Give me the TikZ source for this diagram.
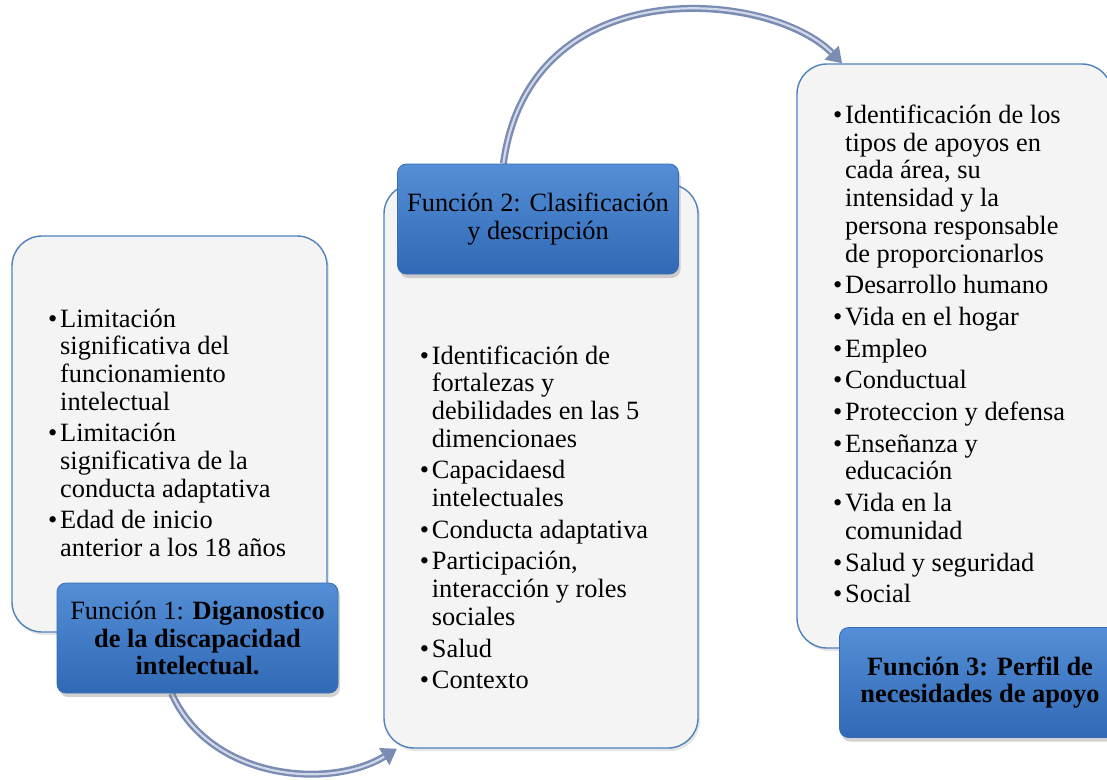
\documentclass[tikz,border=0pt]{standalone}
\usepackage{fontspec}
\setmainfont{Liberation Serif}
\usetikzlibrary{shadows,arrows.meta}
\pgfdeclarelayer{background}
\pgfsetlayers{background,main}
\definecolor{boxfill}{RGB}{244,244,244}
\definecolor{boxline}{RGB}{79,129,189}
\definecolor{lbltop}{RGB}{84,142,214}
\definecolor{lblbot}{RGB}{48,106,182}
\definecolor{lblline}{RGB}{58,108,178}
\definecolor{tubeout}{RGB}{122,140,178}
\definecolor{tubein}{RGB}{208,216,234}
\newcommand{\bul}{\makebox[12pt][l]{•}}
\begin{document}
\begin{tikzpicture}[x=1pt,y=-1pt,
  every node/.style={font=\fontsize{26.4}{27.7}\selectfont, inner sep=0pt},
  contentbox/.style={draw=boxline, line width=1.4pt, fill=boxfill, rounded corners=30pt,
    drop shadow={shadow xshift=2pt, shadow yshift=-3pt, opacity=0.2}},
  fnlabel/.style={draw=lblline, line width=0.8pt, top color=lbltop, bottom color=lblbot,
    rounded corners=9pt, minimum width=281pt, minimum height=110pt, align=center,
    drop shadow={shadow xshift=2pt, shadow yshift=-4pt, opacity=0.35}},
  tubeo/.style={draw=tubeout, line width=7pt},
  tubei/.style={draw=tubein, line width=2.2pt},
  itemtext/.style={anchor=base west}
]
\useasboundingbox (0,0) rectangle (1107,779);

% content boxes
\node[contentbox, minimum width=315pt, minimum height=396pt] (b1) at (169.5,434) {};
\node[contentbox, minimum width=314pt, minimum height=564pt] (b2) at (541,466) {};
\node[contentbox, minimum width=315pt, minimum height=584pt] (b3) at (954.5,356) {};

% texts
\node[itemtext] (t1) at (48,327) {\begin{tabular}[t]{@{}l@{}l@{}}
\bul&Limitación\\
&significativa del\\
&funcionamiento\\
&intelectual\\[4pt]
\bul&Limitación\\
&significativa de la\\
&conducta adaptativa\\[4pt]
\bul&Edad de inicio\\
&anterior a los 18 años
\end{tabular}};

\node[itemtext] (t2) at (419.7,364) {\begin{tabular}[t]{@{}l@{}l@{}}
\bul&Identificación de\\
&fortalezas y\\
&debilidades en las 5\\
&dimencionaes\\[4pt]
\bul&Capacidaesd\\
&intelectuales\\[4pt]
\bul&Conducta adaptativa\\[4pt]
\bul&Participación,\\
&interacción y roles\\
&sociales\\[4pt]
\bul&Salud\\[4pt]
\bul&Contexto
\end{tabular}};

\node[itemtext] (t3) at (833,123.5) {\begin{tabular}[t]{@{}l@{}l@{}}
\bul&Identificación de los\\
&tipos de apoyos en\\
&cada área, su\\
&intensidad y la\\
&persona responsable\\
&de proporcionarlos\\[4pt]
\bul&Desarrollo humano\\[4pt]
\bul&Vida en el hogar\\[4pt]
\bul&Empleo\\[4pt]
\bul&Conductual\\[4pt]
\bul&Proteccion y defensa\\[4pt]
\bul&Enseñanza y\\
&educación\\[4pt]
\bul&Vida en la\\
&comunidad\\[4pt]
\bul&Salud y seguridad\\[4pt]
\bul&Social
\end{tabular}};

% function labels
\node[fnlabel] (f1) at (197.5,638) {Función 1: \textbf{Diganostico}\\\textbf{de la discapacidad}\\\textbf{intelectual.}};
\node[fnlabel] (f2) at (538,219) {Función 2: Clasificación\\y descripción};
\node[fnlabel] (f3) at (980,682.5) {\textbf{Función 3: Perfil de}\\\textbf{necesidades de apoyo}};

% connectors
\begin{pgfonlayer}{background}
\fill[white] (0,0) rectangle (1107,779);
\draw[tubeo, -{Triangle[length=15pt,width=19pt]}] (f1.245) .. controls (210,780) and (330,790) .. (b2.243);
\draw[tubei, shorten >=15pt] (f1.245) .. controls (210,780) and (330,790) .. (b2.243);
\draw[tubeo, -{Triangle[length=15pt,width=19pt]}] (f2.122) .. controls (530,-32) and (770,-10) .. (b3.111);
\draw[tubei, shorten >=15pt] (f2.122) .. controls (530,-32) and (770,-10) .. (b3.111);
\end{pgfonlayer}
\end{tikzpicture}
\end{document}
